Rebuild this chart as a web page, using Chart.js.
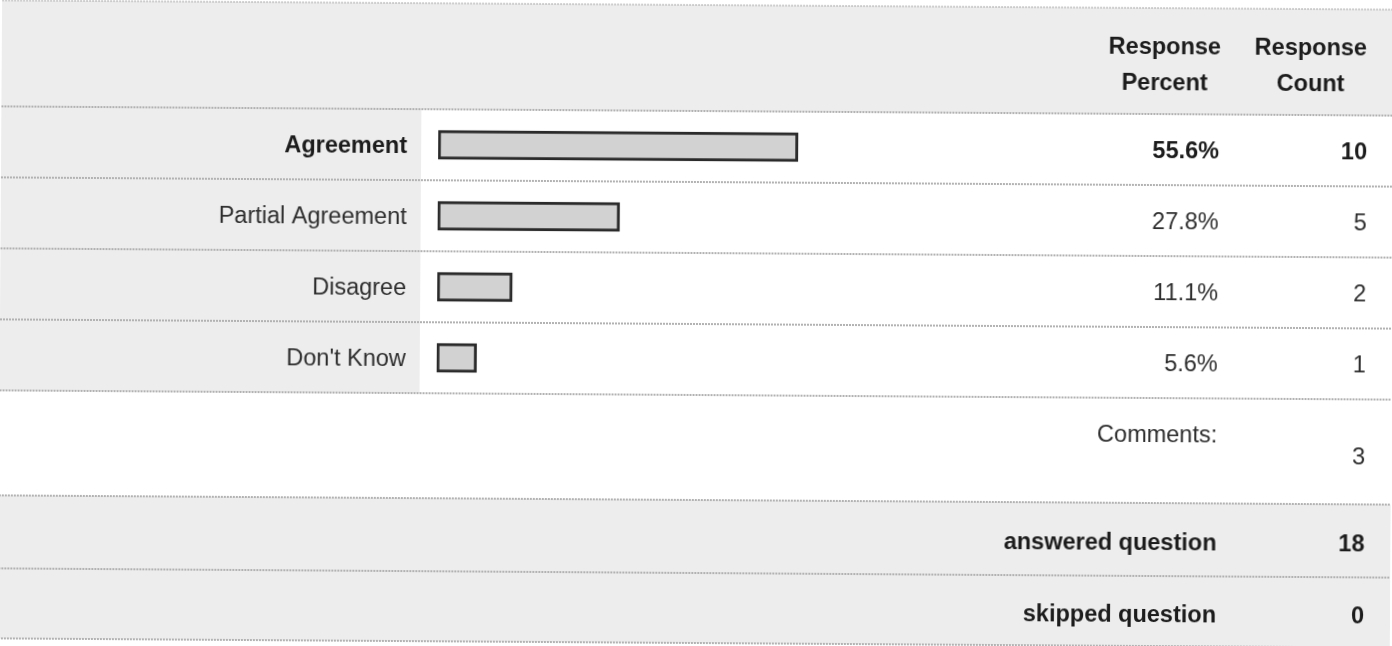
<!DOCTYPE html>
<html>
<head>
<meta charset="utf-8">
<script src="https://cdn.jsdelivr.net/npm/chart.js@4.4.1/dist/chart.umd.min.js"></script>
<style>
  html, body { margin: 0; padding: 0; background: #ffffff; overflow: hidden; }
  #wrap { width: 1392px; height: 646px; position: relative; }
  #c { display: block; transform: rotate(0.38deg); transform-origin: 696px 323px; }
</style>
</head>
<body>
<div id="wrap"><canvas id="c" width="1392" height="646"></canvas></div>
<script>
// ---- data ----
const categories = ['Agreement', 'Partial Agreement', 'Disagree', "Don't Know"];
const responsePercent = [55.6, 27.8, 11.1, 5.6];
const responseCount = [10, 5, 2, 1];
const headerPercent = ['Response', 'Percent'];
const headerCount = ['Response', 'Count'];
const commentsLabel = 'Comments:';
const commentsCount = 3;
const summaryLabels = ['answered question', 'skipped question'];
const summaryValues = [18, 0];

// ---- style ----
const FONT = '"Liberation Sans", Arial, Helvetica, sans-serif';
const FS = 23.5;
const GRAY = '#ededed';
const LINE = '#b2b2b2';
const DARK = '#1c1c1c';
const TEXT = '#2e2e2e';
const maxIdx = responsePercent.indexOf(Math.max(...responsePercent));

const tablePlugin = {
  id: 'surveyTable',
  beforeDraw(chart) {
    const ctx = chart.ctx;
    const W = chart.width;
    const a = chart.chartArea;
    const topLine = 5;
    const commentsBottom = a.bottom + 105;
    const answeredBottom = commentsBottom + 73;
    const skippedBottom = answeredBottom + 70;
    const labelColRight = 420;
    const rowH = (a.bottom - a.top) / categories.length;

    ctx.save();
    ctx.fillStyle = '#ffffff';
    ctx.fillRect(0, 0, W, chart.height);
    ctx.fillStyle = GRAY;
    ctx.fillRect(0, topLine, W, a.top - topLine);
    ctx.fillRect(0, a.top, labelColRight, a.bottom - a.top);
    ctx.fillRect(0, commentsBottom, W, skippedBottom - commentsBottom);

    ctx.strokeStyle = LINE;
    ctx.lineWidth = 2;
    ctx.setLineDash([2, 1]);
    const lines = [topLine, a.top];
    for (let i = 1; i <= categories.length; i++) lines.push(a.top + i * rowH);
    lines.push(commentsBottom, answeredBottom, skippedBottom);
    lines.forEach((yy, k) => {
      ctx.globalAlpha = k === 0 ? 0.6 : 1;
      ctx.beginPath();
      ctx.moveTo(0, yy);
      ctx.lineTo(W, yy);
      ctx.stroke();
    });
    ctx.restore();
    chart.$rows = { commentsBottom, answeredBottom, skippedBottom };
  },
  afterDraw(chart) {
    const ctx = chart.ctx;
    const a = chart.chartArea;
    const ys = chart.scales.y;
    const rows = chart.$rows;
    const labelRight = 406;
    const pctRight = 1218;
    const cntRight = 1366;
    const pctCenter = 1163;
    const cntCenter = 1309;

    ctx.save();
    ctx.textBaseline = 'alphabetic';

    // header
    ctx.fillStyle = DARK;
    ctx.font = 'bold ' + FS + 'px ' + FONT;
    ctx.textAlign = 'center';
    ctx.fillText(headerPercent[0], pctCenter, 51);
    ctx.fillText(headerPercent[1], pctCenter, 87);
    ctx.fillText(headerCount[0], cntCenter, 51);
    ctx.fillText(headerCount[1], cntCenter, 87);

    // data rows
    categories.forEach((cat, i) => {
      const yc = ys.getPixelForValue(i) + 8.5;
      const bold = i === maxIdx;
      ctx.font = (bold ? 'bold ' : '') + FS + 'px ' + FONT;
      ctx.fillStyle = bold ? DARK : TEXT;
      ctx.textAlign = 'right';
      ctx.fillText(cat, labelRight, yc);
      ctx.fillText(responsePercent[i].toFixed(1) + '%', pctRight, yc);
      ctx.fillText(String(responseCount[i]), cntRight, yc);
    });

    // comments row
    ctx.font = FS + 'px ' + FONT;
    ctx.fillStyle = TEXT;
    ctx.textAlign = 'right';
    ctx.fillText(commentsLabel, pctRight, a.bottom + 44);
    ctx.fillText(String(commentsCount), cntRight, a.bottom + 65);

    // summary rows
    ctx.font = 'bold ' + FS + 'px ' + FONT;
    ctx.fillStyle = DARK;
    const sumY = [rows.commentsBottom + 47, rows.answeredBottom + 46];
    summaryLabels.forEach((lab, i) => {
      ctx.fillText(lab, pctRight, sumY[i]);
      ctx.fillText(String(summaryValues[i]), cntRight, sumY[i]);
    });
    ctx.restore();
  }
};

new Chart(document.getElementById('c'), {
  type: 'bar',
  data: {
    labels: categories,
    datasets: [{
      data: responsePercent,
      base: -0.625,
      backgroundColor: '#d2d2d2',
      borderColor: '#2a2a2a',
      borderWidth: 3,
      borderSkipped: false,
      barThickness: 29
    }]
  },
  options: {
    indexAxis: 'y',
    responsive: false,
    devicePixelRatio: 1,
    animation: false,
    events: [],
    layout: { padding: { left: 437, right: 311, top: 111, bottom: 251 } },
    scales: {
      x: { type: 'linear', min: -0.625, max: 100, display: false },
      y: { type: 'category', display: false }
    },
    plugins: { legend: { display: false }, tooltip: { enabled: false } }
  },
  plugins: [tablePlugin]
});
</script>
</body>
</html>
